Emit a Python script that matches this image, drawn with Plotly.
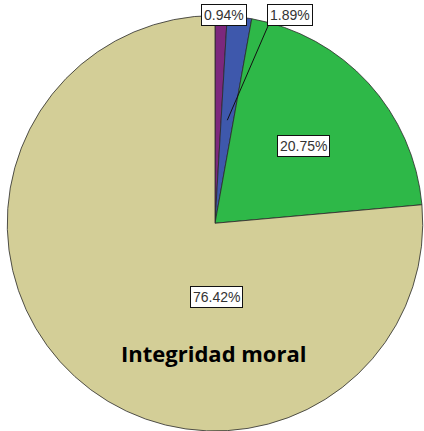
import math
import plotly.graph_objects as go

# Data
categories = ["Categoría A", "Categoría B", "Categoría C", "Categoría D"]
values = [0.94, 1.89, 20.75, 76.42]
colors = ["#7C287D", "#3E58AC", "#2EB848", "#D3CE97"]
title_text = "Integridad moral"

W, H = 424, 431
cx, cy, R = 215, 223.5, 208  # pixel geometry of the pie

fig = go.Figure(go.Pie(
    labels=categories,
    values=values,
    sort=False,
    direction="clockwise",
    rotation=0,
    marker=dict(colors=colors, line=dict(color="#2a2a2a", width=0.8)),
    textinfo="none",
    hoverinfo="label+percent",
    showlegend=False,
    domain=dict(x=[(cx - R) / W, (cx + R) / W], y=[max(0, 1 - (cy + R) / H), 1 - (cy - R) / H]),
))

def px2paper(x, y):
    return x / W, 1 - y / H

total = sum(values)
cum = 0
mids = []
for v in values:
    mids.append((cum + v / 2) / total * 2 * math.pi)
    cum += v

# label placement (pixel layout positions for the text boxes)
label_pos = [(224, 15), (290, 15), (303, 146), (216, 297)]
annotations = []
shapes = []
for i, v in enumerate(values):
    lx, ly = px2paper(*label_pos[i])
    annotations.append(dict(
        text=f"{v:.2f}%", x=lx, y=ly, xref="paper", yref="paper",
        showarrow=False, font=dict(family="Liberation Sans, Arial", size=14, color="#333333"),
        bgcolor="white", bordercolor="#111111", borderwidth=1, borderpad=2,
        xanchor="center", yanchor="middle",
    ))
    if i == 1:
        # leader line from the label box corner to the middle of the slice at half radius
        a = mids[i]
        hx, hy = cx + 0.5 * R * math.sin(a), cy - 0.5 * R * math.cos(a)
        sx, sy = label_pos[i][0] - 22, label_pos[i][1] + 11
        x0, y0 = px2paper(sx, sy)
        x1, y1 = px2paper(hx, hy)
        shapes.append(dict(type="line", xref="paper", yref="paper", x0=x0, y0=y0, x1=x1, y1=y1,
                           line=dict(color="#111111", width=1)))

tx, ty = px2paper(213.5, 353)
annotations.append(dict(
    text=f"<b>{title_text}</b>", x=tx, y=ty, xref="paper", yref="paper", showarrow=False,
    font=dict(family="Open Sans, Liberation Sans, Arial", size=22, color="black"),
    xanchor="center", yanchor="middle",
))

fig.update_layout(
    width=W, height=H,
    margin=dict(l=0, r=0, t=0, b=0),
    paper_bgcolor="white", plot_bgcolor="white",
    annotations=annotations,
    shapes=shapes,
)

fig.write_html("out.html", config={"displayModeBar": False},
               post_script="document.body.style.margin='0';document.body.style.padding='0';")
